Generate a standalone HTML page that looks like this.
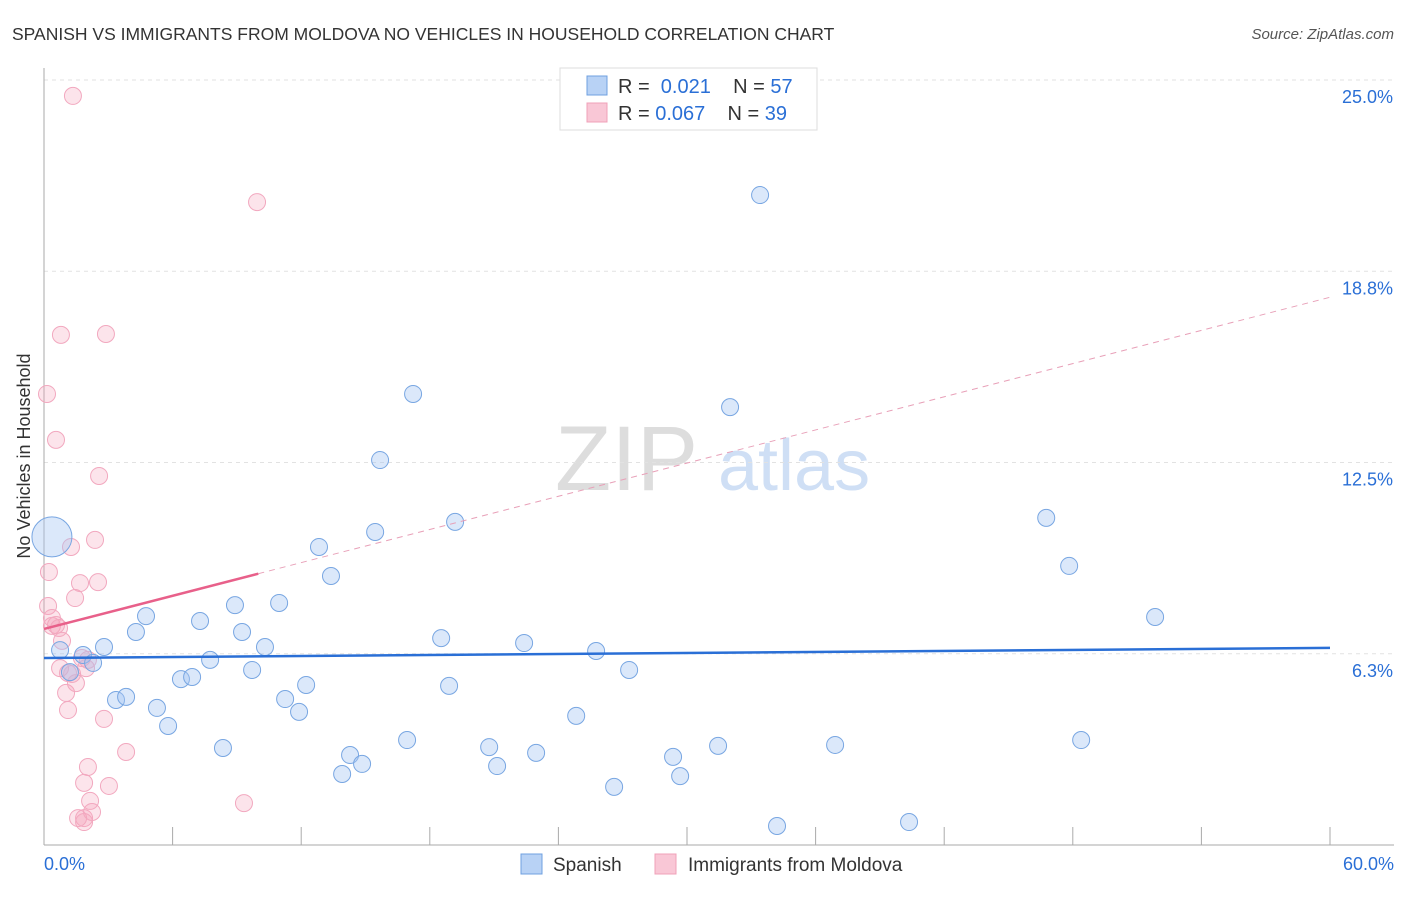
<!DOCTYPE html>
<html><head><meta charset="utf-8"><style>
body{margin:0;background:#fff;font-family:"Liberation Sans",sans-serif;}
svg text{font-family:"Liberation Sans",sans-serif;}
</style></head><body>
<svg id="c" width="1406" height="892">
<text x="12" y="40" font-size="17.5" fill="#333">SPANISH VS IMMIGRANTS FROM MOLDOVA NO VEHICLES IN HOUSEHOLD CORRELATION CHART</text>
<text x="1394" y="39" font-size="15" fill="#555" font-style="italic" text-anchor="end">Source: ZipAtlas.com</text>
<text x="30" y="456" font-size="18" fill="#333" text-anchor="middle" transform="rotate(-90 30 456)">No Vehicles in Household</text>
<g><text x="555" y="490" font-size="92" fill="#ddd" font-family="Liberation Serif">ZIP</text><text x="718" y="490" font-size="72" fill="#cfdff5">atlas</text></g>
<g id="grid"></g><g id="pts"></g><g id="trend"></g>
<g>
<rect x="560" y="68" width="257" height="62" fill="#fff" stroke="#ddd"/>
<rect x="587" y="76" width="20" height="19" fill="#b8d2f5" stroke="#6fa0e0"/>
<text x="618" y="93" font-size="20" fill="#333">R = <tspan fill="#2a6fd6">&#160;0.021</tspan>&#160;&#160;&#160;&#160;N = <tspan fill="#2a6fd6">57</tspan></text>
<rect x="587" y="103" width="20" height="19" fill="#f9c7d6" stroke="#f0a0b8"/>
<text x="618" y="120" font-size="20" fill="#333">R = <tspan fill="#2a6fd6">0.067</tspan>&#160;&#160;&#160;&#160;N = <tspan fill="#2a6fd6">39</tspan></text>
</g>
<g>
<rect x="521" y="854" width="21" height="20" fill="#b8d2f5" stroke="#6fa0e0"/>
<text x="553" y="871" font-size="19" fill="#333">Spanish</text>
<rect x="655" y="854" width="21" height="20" fill="#f9c7d6" stroke="#f0a0b8"/>
<text x="688" y="871" font-size="19" fill="#333">Immigrants from Moldova</text>
</g>
</svg>
<script>
const blueX=[0.37,0.75,1.82,2.29,1.21,2.8,3.36,3.83,4.29,4.76,5.27,5.79,6.39,6.91,7.28,7.75,8.35,8.91,9.24,9.71,10.31,10.97,11.25,11.9,12.23,12.83,13.39,13.91,14.28,14.84,15.45,15.68,16.94,17.22,18.53,18.9,19.18,20.77,21.14,22.4,22.96,24.83,25.76,26.6,27.3,29.35,29.68,31.45,32.01,33.41,34.2,36.91,40.36,46.76,47.83,48.39,51.84];
const blueY=[10.07,6.37,6.21,5.95,5.65,6.47,4.74,4.84,6.96,7.48,4.48,3.89,5.42,5.49,7.32,6.05,3.17,7.84,6.96,5.72,6.47,7.91,4.77,4.35,5.23,9.74,8.79,2.32,2.94,2.65,10.23,12.58,3.43,14.74,6.76,5.2,10.56,3.2,2.58,6.6,3.01,4.22,6.34,1.9,5.72,2.88,2.25,3.24,14.31,21.24,0.62,3.27,0.75,10.69,9.12,3.43,7.45];
const pinkX=[0.14,0.23,0.19,0.37,0.37,0.56,0.7,0.79,0.84,0.75,1.12,1.03,1.12,1.26,1.35,1.45,1.49,1.68,1.77,1.96,2.05,2.15,2.38,2.52,2.57,2.8,2.89,3.03,3.83,9.33,9.94,1.87,1.59,1.87,2.24,1.87,1.31,0.56,2.05];
const pinkY=[14.74,8.92,7.81,7.42,7.16,13.24,7.09,16.67,6.67,5.78,5.62,4.97,4.41,9.74,24.48,8.07,5.29,8.56,6.11,5.78,2.55,1.44,9.97,8.59,12.06,4.12,16.7,1.93,3.04,1.37,21.01,0.88,0.88,0.75,1.08,2.03,5.59,7.19,6.05];
const yTicks=[6.25,12.5,18.75,25];
const yTickLabels=["6.3%","12.5%","18.8%","25.0%"];
const xTicks=[0,6,12,18,24,30,36,42,48,54,60];
const blueTrend=[6.11,6.44];
const pinkTrend=[7.06,17.9];
const pinkSolidEnd=10;
const NS="http://www.w3.org/2000/svg";
const X=v=>44+v*(1286/60), Y=v=>845-v*30.6;
function mk(p,t,a){const e=document.createElementNS(NS,t);for(const k in a)e.setAttribute(k,a[k]);p.appendChild(e);return e;}
const g=document.getElementById('grid');
yTicks.forEach((t,i)=>{const l=mk(g,'line',{x1:44,x2:1394,y1:Y(t),y2:Y(t),stroke:'#e2e2e2','stroke-dasharray':'4,4'});


const tx=mk(g,'text',{x:1393,y:Y(t)+23,'font-size':18,fill:'#2a6fd6','text-anchor':'end'});tx.textContent=yTickLabels[i];

});
const ax=mk(g,'line',{x1:44,x2:44,y1:68,y2:845,stroke:'#aaa'});


const bx=mk(g,'line',{x1:44,x2:1394,y1:845,y2:845,stroke:'#aaa'});


xTicks.forEach(t=>{const l=mk(g,'line',{x1:X(t),x2:X(t),y1:827,y2:845,stroke:'#aaa'});

});
[[0,"0.0%",'start',44],[60,"60.0%",'end',1394]].forEach(a=>{const tx=mk(g,'text',{x:a[3],y:870,'font-size':18,fill:'#2a6fd6','text-anchor':a[2]});tx.textContent=a[1];

});
const p=document.getElementById('pts');
pinkX.forEach((x,i)=>{const c=mk(p,'circle',{cx:X(x),cy:Y(pinkY[i]),r:8.5,fill:'rgba(245,165,190,0.3)',stroke:'#f2a8bf','stroke-width':1});

});
blueX.forEach((x,i)=>{const c=mk(p,'circle',{cx:X(x),cy:Y(blueY[i]),r:i==0?20:8.5,fill:'rgba(165,198,242,0.4)',stroke:'#78a6e2','stroke-width':1});

});
const tr=document.getElementById('trend');
const pv=x=>pinkTrend[0]+(pinkTrend[1]-pinkTrend[0])*x/60;
const l1=mk(tr,'line',{x1:X(0),y1:Y(pinkTrend[0]),x2:X(pinkSolidEnd),y2:Y(pv(pinkSolidEnd)),stroke:'#e8608a','stroke-width':2.5});


const l2=mk(tr,'line',{x1:X(pinkSolidEnd),y1:Y(pv(pinkSolidEnd)),x2:X(60),y2:Y(pinkTrend[1]),stroke:'#e8a0b8','stroke-width':1,'stroke-dasharray':'6,5'});


const l3=mk(tr,'line',{x1:X(0),y1:Y(blueTrend[0]),x2:X(60),y2:Y(blueTrend[1]),stroke:'#2a6fd6','stroke-width':2.5});


</script>
</body></html>
